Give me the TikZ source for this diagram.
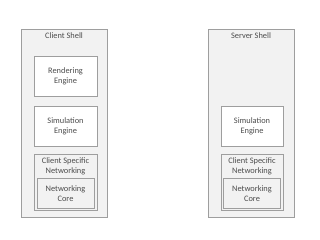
\documentclass[tikz,border=0pt]{standalone}
\usepackage{fontspec}
\setmainfont{Carlito}
\begin{document}
\begin{tikzpicture}[x=1bp,y=-1bp,
  box/.style={draw=black!38,line width=0.8bp,inner sep=0pt,align=center,text=black!70,font=\fontsize{8.4}{9.4}\selectfont},
  shell/.style={box,fill=black!5},
  engine/.style={box,fill=white},
  netbox/.style={box,fill=black!5},
  lbl/.style={inner sep=0pt,align=center,text=black!70,font=\fontsize{8.4}{9.4}\selectfont}]
\useasboundingbox (0,0) rectangle (320,240);
% left shell
\node[shell,minimum width=86bp,minimum height=188bp] (cs) at (64,123) {};
\node[lbl] (cst) at (64,36) {Client Shell};
\node[engine,minimum width=63bp,minimum height=40.7bp] (re) at (65.5,76.3) {Rendering\\Engine};
\node[engine,minimum width=63bp,minimum height=40.7bp] (se) at (65.5,126.3) {Simulation\\Engine};
\node[netbox,minimum width=63bp,minimum height=56.7bp] (csn) at (65.5,182.3) {};
\node[lbl] (csnt) at (65.5,166.3) {Client Specific\\Networking};
\node[netbox,minimum width=57bp,minimum height=29.6bp] (nc) at (65.5,193.5) {Networking\\Core};
% right shell
\node[shell,minimum width=86bp,minimum height=188bp] (ss) at (251,123) {};
\node[lbl] (sst) at (251,36) {Server Shell};
\node[engine,minimum width=62bp,minimum height=40.7bp] (se2) at (252,126.3) {Simulation\\Engine};
\node[netbox,minimum width=62bp,minimum height=56.7bp] (csn2) at (252,182.3) {};
\node[lbl] (csnt2) at (252,166.3) {Client Specific\\Networking};
\node[netbox,minimum width=56.3bp,minimum height=29.6bp] (nc2) at (252,193.5) {Networking\\Core};
\end{tikzpicture}
\end{document}
